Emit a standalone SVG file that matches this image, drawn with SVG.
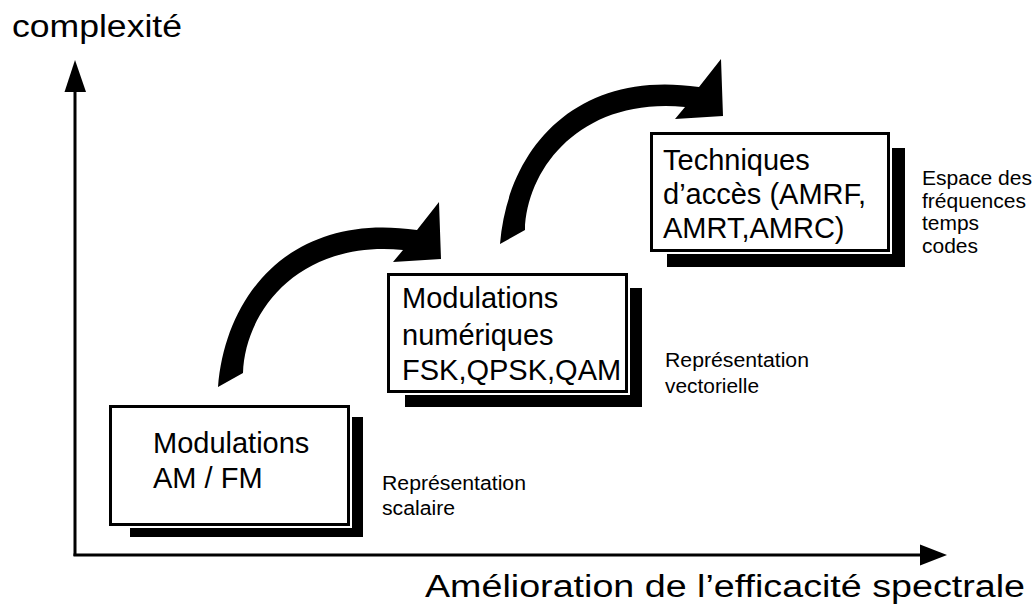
<svg xmlns="http://www.w3.org/2000/svg" xmlns:xlink="http://www.w3.org/1999/xlink" width="1036" height="609" viewBox="0 0 1036 609">
  <style>
    .t { font-family: "Liberation Sans", Arial, sans-serif; fill: #000; }
    .box { font-size: 29px; }
    .side { font-size: 20px; }
    .title { font-size: 31px; }
    .frame { fill: #fff; stroke: #000; stroke-width: 3; }
    .gap { fill: #fff; }
    .shadow { fill: #000; }
    .axis { stroke: #000; stroke-width: 3; fill: none; }
  </style>
  <defs>
    <path id="bigArrow" d="M218,387 C226,290 295,212 417,230 L439,202 L441,259 L393,262 L403,250 C300,240 245,310 243,373 Z" fill="#000"/>
  </defs>
  <rect width="1036" height="609" fill="#fff"/>

  <g id="axes">
    <line class="axis" x1="75" y1="556" x2="75" y2="88"/>
    <polygon points="75,60 64.5,92 86,92" fill="#000"/>
    <line class="axis" x1="73.5" y1="555" x2="924" y2="555"/>
    <polygon points="947,555 920,544.5 920,565.5" fill="#000"/>
    <text class="t title" x="12" y="37" textLength="170" lengthAdjust="spacingAndGlyphs">complexité</text>
    <text class="t title" x="425" y="597" font-size="32" textLength="600" lengthAdjust="spacingAndGlyphs">Amélioration de l’efficacité spectrale</text>
  </g>

  <g id="connectors">
    <use xlink:href="#bigArrow" href="#bigArrow"/>
    <use xlink:href="#bigArrow" href="#bigArrow" transform="translate(282,-143)"/>
  </g>

  <g id="node-am-fm">
    <rect class="shadow" x="130" y="417" width="233" height="120"/>
    <rect class="gap" x="108" y="404" width="244" height="124"/>
    <rect class="frame" x="110.5" y="406.5" width="238" height="118"/>
    <text class="t box" x="153" y="453">Modulations</text>
    <text class="t box" x="153" y="488">AM / FM</text>
  </g>

  <g id="node-numeriques">
    <rect class="shadow" x="405" y="288" width="237" height="119"/>
    <rect class="gap" x="386" y="272" width="244" height="123"/>
    <rect class="frame" x="388.5" y="274.5" width="238" height="117"/>
    <text class="t box" x="402" y="308">Modulations</text>
    <text class="t box" x="402" y="345">numériques</text>
    <text class="t box" x="402" y="380">FSK,QPSK,QAM</text>
  </g>

  <g id="node-acces">
    <rect class="shadow" x="667" y="148" width="238" height="119"/>
    <rect class="gap" x="649" y="131" width="243" height="123"/>
    <rect class="frame" x="651.5" y="133.5" width="237" height="117"/>
    <text class="t box" x="663" y="170">Techniques</text>
    <text class="t box" x="663" y="204">d’accès (AMRF,</text>
    <text class="t box" x="663" y="238">AMRT,AMRC)</text>
  </g>

  <g id="label-scalaire">
    <text class="t side" x="382" y="490" textLength="144" lengthAdjust="spacingAndGlyphs">Représentation</text>
    <text class="t side" x="382" y="515" textLength="73" lengthAdjust="spacingAndGlyphs">scalaire</text>
  </g>

  <g id="label-vectorielle">
    <text class="t side" x="665" y="367" textLength="144" lengthAdjust="spacingAndGlyphs">Représentation</text>
    <text class="t side" x="665" y="393" textLength="94" lengthAdjust="spacingAndGlyphs">vectorielle</text>
  </g>

  <g id="label-espace">
    <text class="t side" x="922" y="185" textLength="110" lengthAdjust="spacingAndGlyphs">Espace des</text>
    <text class="t side" x="922" y="208" textLength="104" lengthAdjust="spacingAndGlyphs">fréquences</text>
    <text class="t side" x="922" y="230" textLength="57" lengthAdjust="spacingAndGlyphs">temps</text>
    <text class="t side" x="922" y="253" textLength="56" lengthAdjust="spacingAndGlyphs">codes</text>
  </g>
</svg>
